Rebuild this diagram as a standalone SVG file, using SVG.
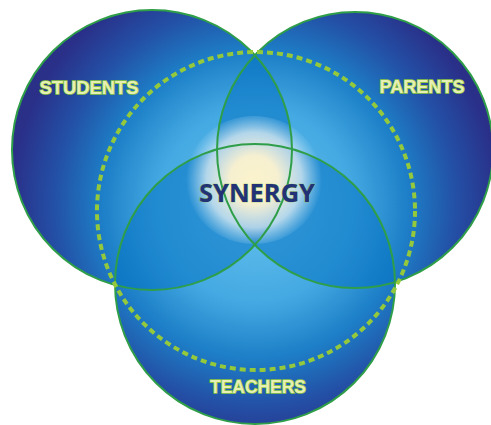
<svg xmlns="http://www.w3.org/2000/svg" width="491" height="425" viewBox="0 0 491 425">
<defs>
<radialGradient id="bg" gradientUnits="userSpaceOnUse" cx="255" cy="205" r="245">
<stop offset="0" stop-color="#66c2ee"/>
<stop offset="0.4" stop-color="#44a9e2"/>
<stop offset="0.62" stop-color="#1d80c8"/>
<stop offset="0.82" stop-color="#2350a6"/>
<stop offset="1" stop-color="#2a2f88"/>
</radialGradient>
<radialGradient id="glow" gradientUnits="userSpaceOnUse" cx="254" cy="180" r="68">
<stop offset="0" stop-color="#fbf3cc"/>
<stop offset="0.35" stop-color="#f7f0d0"/>
<stop offset="0.7" stop-color="#e2eef2" stop-opacity="0.75"/>
<stop offset="1" stop-color="#bfe4f6" stop-opacity="0"/>
</radialGradient>
<clipPath id="cS"><circle cx="152" cy="150" r="140"/></clipPath>
<clipPath id="cP"><circle cx="355" cy="150" r="138"/></clipPath>
<style>
.c{fill:url(#bg);}
.o{fill:none;stroke:#2f9e48;stroke-width:2;}
.ov{fill:#0672c2;fill-opacity:0.55;}
.lbl{font-family:"Liberation Sans",Arial,sans-serif;font-weight:bold;font-size:19px;fill:#e6efb4;stroke:#8cc63f;stroke-width:1.6;paint-order:stroke;}
.syn{font-family:"Open Sans","Liberation Sans",sans-serif;font-weight:bold;font-size:25px;fill:#233276;stroke:#8cc63f;stroke-width:0.6;paint-order:stroke;}
</style>
</defs>
<rect width="491" height="425" fill="#ffffff"/>
<g id="students"><circle class="c" cx="152" cy="150" r="140"/></g>
<g id="parents"><circle class="c" cx="355" cy="150" r="138"/></g>
<g id="teachers"><circle class="c" cx="255" cy="284" r="140"/></g>
<g id="overlaps">
<g clip-path="url(#cS)"><circle class="ov" cx="355" cy="150" r="138"/></g>
<g clip-path="url(#cS)"><circle class="ov" cx="255" cy="284" r="140"/></g>
<g clip-path="url(#cP)"><circle class="ov" cx="255" cy="284" r="140"/></g>
</g>
<g id="synergy">
<ellipse cx="254" cy="180" rx="68" ry="64" fill="url(#glow)"/>
</g>
<g id="outlines">
<circle class="o" cx="152" cy="150" r="140"/>
<circle class="o" cx="355" cy="150" r="138"/>
<circle class="o" cx="255" cy="284" r="140"/>
</g>
<g id="connectors">
<circle cx="256" cy="211" r="159" fill="none" stroke="#94c93c" stroke-width="4" stroke-dasharray="6 4"/>
</g>
<g id="labels">
<text class="lbl" x="89" y="94" text-anchor="middle" textLength="99" lengthAdjust="spacingAndGlyphs">STUDENTS</text>
<text class="lbl" x="422" y="93" text-anchor="middle" textLength="85" lengthAdjust="spacingAndGlyphs">PARENTS</text>
<text class="lbl" x="258" y="393" text-anchor="middle" textLength="96" lengthAdjust="spacingAndGlyphs">TEACHERS</text>
<text class="syn" x="257" y="202" text-anchor="middle" textLength="116" lengthAdjust="spacingAndGlyphs">SYNERGY</text>
</g>
</svg>
